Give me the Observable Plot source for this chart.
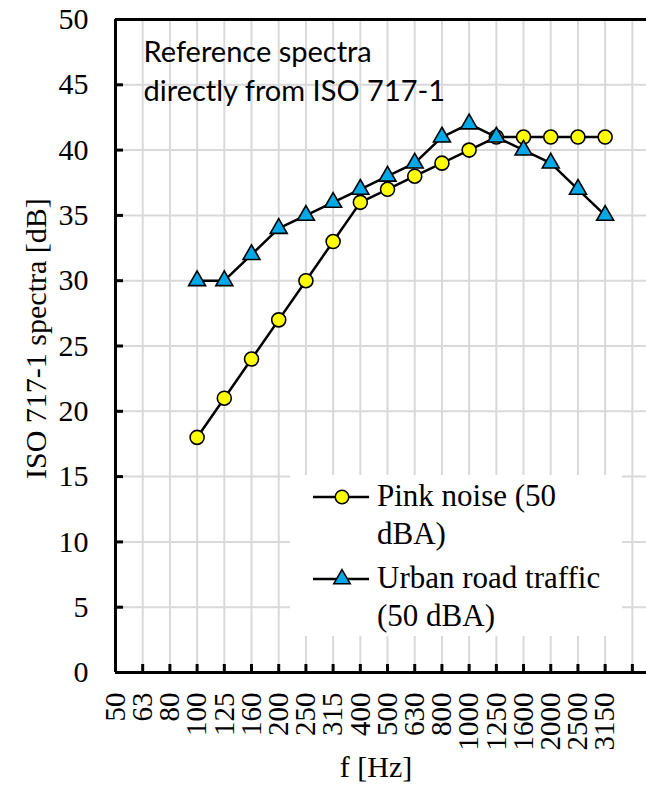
<!DOCTYPE html>
<html>
<head>
<meta charset="utf-8">
<script src="https://cdn.jsdelivr.net/npm/d3@7"></script>
<script src="https://cdn.jsdelivr.net/npm/@observablehq/plot@0.6"></script>
<style>
  body { margin: 0; background: #fff; }
  #chart { position: relative; width: 646px; height: 801px; }
  .legend {
    position: absolute; left: 290px; top: 475px; width: 332px; height: 161px;
    background: #fff; font-family: "Liberation Serif", "Times New Roman", serif; font-size: 31px;
    line-height: 38px; color: #000;
  }
  .legend .item { position: absolute; left: 23px; display: flex; align-items: flex-start; }
  .legend .item svg { flex: none; margin-top: 2px; margin-right: 6px; }
</style>
</head>
<body>
<div id="chart"></div>
<div class="legend" id="legend"></div>
<script>
// One-third-octave bands (Hz) shown on the x axis
const bands = ["50", "63", "80", "100", "125", "160", "200", "250", "315", "400",
               "500", "630", "800", "1000", "1250", "1600", "2000", "2500", "3150"];
// Bands that carry a spectrum value (100 Hz – 3150 Hz)
const spectrumBands = ["100", "125", "160", "200", "250", "315", "400", "500",
                       "630", "800", "1000", "1250", "1600", "2000", "2500", "3150"];
// ISO 717-1 reference spectra, dB
const pinkNoise    = [18, 21, 24, 27, 30, 33, 36, 37, 38, 39, 40, 41, 41, 41, 41, 41];
const urbanTraffic = [30, 30, 32, 34, 35, 36, 37, 38, 39, 41, 42, 41, 40, 39, 37, 35];
const yTicks = [0, 5, 10, 15, 20, 25, 30, 35, 40, 45, 50];
const seriesNames = ["Pink noise (50\ndBA)", "Urban road traffic\n(50 dBA)"];
const note = "Reference spectra\ndirectly from ISO 717-1";
const xTitle = "f [Hz]";
const yTitle = "ISO 717-1 spectra [dB]";

const yellow = "#FFFF00";
const blue = "#00A8E8";
const serif = "'Liberation Serif', 'Times New Roman', serif";

const rows = (vals) => spectrumBands.map((b, k) => ({i: bands.indexOf(b), v: vals[k]}));
const pinkRows = rows(pinkNoise);
const trafficRows = rows(urbanTraffic);
const bandIdx = d3.range(bands.length);
const gridIdx = d3.range(1, bands.length + 1);

const plot = Plot.plot({
  width: 646,
  height: 801,
  marginLeft: 115,
  marginTop: 19,
  marginBottom: 129,
  marginRight: 0,
  style: {fontFamily: serif, background: "#fff"},
  x: {type: "linear", domain: [0, 19.52], axis: null},
  y: {domain: [0, 50], axis: null},
  marks: [
    // gridlines
    Plot.gridX({ticks: gridIdx, stroke: "#d9d9d9", strokeOpacity: 1, strokeWidth: 2}),
    Plot.gridY({ticks: yTicks.filter(t => t > 0 && t < 50), stroke: "#d9d9d9", strokeOpacity: 1, strokeWidth: 2}),
    // inside tick marks
    Plot.ruleX(gridIdx, {y1: 0, y2: 0, insetTop: -8, stroke: "black", strokeWidth: 3}),
    Plot.ruleY(yTicks, {x1: 0, x2: 0, insetRight: -8, stroke: "black", strokeWidth: 3}),
    // axis lines and top frame
    Plot.ruleY([50], {stroke: "black", strokeWidth: 3}),
    Plot.ruleX([0], {stroke: "black", strokeWidth: 3}),
    Plot.ruleY([0], {stroke: "black", strokeWidth: 3}),
    // tick labels
    Plot.axisY({ticks: yTicks, tickSize: 0, tickPadding: 27, fontSize: 30, fontFamily: serif,
                fontVariant: "normal", label: null}),
    Plot.axisX({ticks: bandIdx, tickFormat: i => bands[i], tickRotate: -90, tickSize: 0,
                tickPadding: 20, fontSize: 29, fontFamily: serif, fontVariant: "normal", label: null}),
    // axis titles
    Plot.text([xTitle], {frameAnchor: "bottom", dx: -5, dy: 104, fontSize: 30, fontFamily: serif}),
    Plot.text([yTitle], {frameAnchor: "left", dx: -79, dy: 133, rotate: -90, textAnchor: "start",
                         fontSize: 30, fontFamily: serif}),
    // annotation
    Plot.text([note], {frameAnchor: "top-left", dx: 28, dy: 14, textAnchor: "start", lineAnchor: "top",
                       lineHeight: 1.36, fontSize: 29, fontFamily: "Lato"}),
    // series
    Plot.line(pinkRows, {x: "i", y: "v", stroke: "black", strokeWidth: 2.5}),
    Plot.dot(pinkRows, {x: "i", y: "v", r: 7, fill: yellow, stroke: "black", strokeWidth: 1.6}),
    Plot.line(trafficRows, {x: "i", y: "v", stroke: "black", strokeWidth: 2.5}),
    Plot.dot(trafficRows, {x: "i", y: "v", symbol: "triangle", r: 6.3, fill: blue, stroke: "black", strokeWidth: 1.6})
  ]
});

// pin the serif face on every serif label
d3.select(plot).selectAll("g[font-family*='Liberation'] text")
  .style("font-family", serif)
  .style("font-variant", "normal");

document.getElementById("chart").appendChild(plot);

// legend drawn over the plot area
const legend = document.getElementById("legend");
const symbols = [
  `<circle cx="30" cy="0" r="7" fill="${yellow}" stroke="black" stroke-width="1.6"/>`,
  `<path d="${d3.symbol(d3.symbolTriangle, Math.PI * 6.3 * 6.3)()}" transform="translate(30,0)" fill="${blue}" stroke="black" stroke-width="1.6"/>`
];
const tops = [2, 84];
seriesNames.forEach((name, k) => {
  const item = document.createElement("div");
  item.className = "item";
  item.style.top = tops[k] + "px";
  item.innerHTML =
    `<svg width="58" height="36" viewBox="0 -18 60 36"><line x1="0" x2="58" y1="0" y2="0" stroke="black" stroke-width="2.5"/>${symbols[k]}</svg>` +
    `<div>${name.replace("\n", "<br>")}</div>`;
  legend.appendChild(item);
});

// settle layout and font resolution before the page is shown
plot.querySelectorAll("text").forEach(t => { t.getBBox(); getComputedStyle(t).fontFamily; });
const gx = plot.querySelector('[aria-label="x-grid"]');
if (gx) getComputedStyle(gx.firstElementChild).stroke;
document.body.getBoundingClientRect();
</script>
</body>
</html>
